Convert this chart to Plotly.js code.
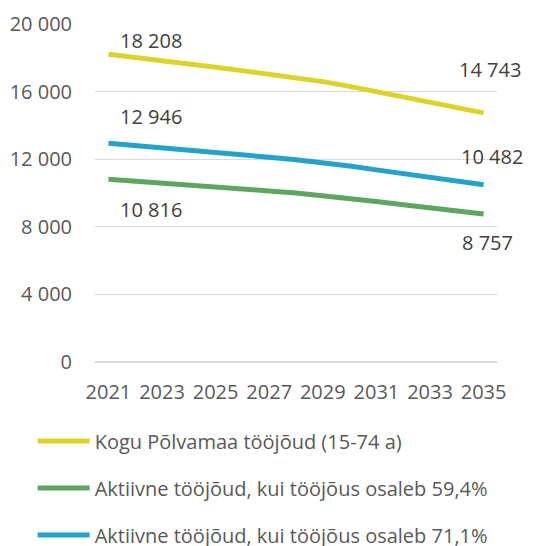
<!DOCTYPE html>
<html>
<head>
<meta charset="utf-8">
<script src="https://cdn.plot.ly/plotly-3.0.1.min.js"></script>
<style>html,body{margin:0;padding:0;background:#fff;}#chart{width:544px;height:546px;}</style>
</head>
<body>
<div id="chart"></div>
<script>
const years = [2021,2022,2023,2024,2025,2026,2027,2028,2029,2030,2031,2032,2033,2034,2035];
const koguToojoud = [18208,18030,17850,17650,17440,17240,17040,16830,16590,16310,15990,15670,15360,15050,14743];
const aktiivne594 = [10816,10710,10603,10484,10359,10241,10122,9997,9854,9688,9498,9308,9124,8940,8757];
const aktiivne711 = [12946,12819,12691,12549,12400,12258,12115,11966,11795,11596,11369,11141,10921,10701,10482];
const seriesNames = ["Kogu Põlvamaa tööjõud (15-74 a)","Aktiivne tööjõud, kui tööjõus osaleb 59,4%","Aktiivne tööjõud, kui tööjõus osaleb 71,1%"];
const colors = ["#DCD32A","#5EA660","#23A3C9"];
const xTicks = [2021,2023,2025,2027,2029,2031,2033,2035];
const yTicks = [0,4000,8000,12000,16000,20000];

const FONT = "Open Sans, sans-serif";
const FS = 20;
const fmt = v => String(v).replace(/\B(?=(\d{3})+(?!\d))/g, " ");

const allSeries = [koguToojoud, aktiivne594, aktiivne711];
const traces = allSeries.map((ys,i)=>({
  x: years, y: ys, type:'scatter', mode:'lines', name: seriesNames[i],
  line:{color:colors[i], width:5, shape:'linear'},
  legendgroup:'g'+i, hoverinfo:'skip'
}));

// label offsets (px) for start/end labels of each series
const startShift = [[10,14],[10,-30],[10,27]];
const endShift = [[6,43],[4,-28],[8,28]];
const annotations = [];
allSeries.forEach((ys,i)=>{
  const n = ys.length-1;
  annotations.push({x:years[0], y:ys[0], text:fmt(ys[0]), showarrow:false, xanchor:'left',
    xshift:startShift[i][0], yshift:startShift[i][1], font:{family:FONT,size:FS,color:'#404040'}});
  annotations.push({x:years[n], y:ys[n], text:fmt(ys[n]), showarrow:false, xanchor:'center',
    xshift:endShift[i][0], yshift:endShift[i][1], font:{family:FONT,size:FS,color:'#404040'}});
});

const layout = {
  width:544, height:546,
  margin:{l:95, r:47, t:24, b:184, autoexpand:false},
  paper_bgcolor:'#fff', plot_bgcolor:'#fff',
  showlegend:true,
  font:{family:FONT, size:FS, color:'#595959'},
  separators:', ',
  xaxis:{range:[2020.5,2035.5], tickvals:xTicks, ticktext:xTicks.map(String), showgrid:false, zeroline:false,
    showline:false, ticks:'outside', ticklen:12, tickcolor:'rgba(0,0,0,0)', tickangle:0,
    tickfont:{family:FONT,size:FS,color:'#595959'}, fixedrange:true, automargin:false},
  yaxis:{range:[0,20000], tickvals:yTicks, ticktext:yTicks.map(fmt), showgrid:true, gridcolor:'#D9D9D9', gridwidth:1.3,
    zeroline:true, zerolinecolor:'#D9D9D9', zerolinewidth:1.3, showline:false,
    ticks:'outside', ticklen:18, tickcolor:'rgba(0,0,0,0)',
    tickfont:{family:FONT,size:FS,color:'#595959'}, fixedrange:true, automargin:false},
  legend:{xref:'container', yref:'container', x:0.06, y:0.228, xanchor:'left', yanchor:'top',
    orientation:'v', tracegroupgap:18, itemwidth:52, font:{family:FONT,size:FS,color:'#595959'},
    bgcolor:'rgba(0,0,0,0)'},
  annotations: annotations
};

Plotly.newPlot('chart', traces, layout, {displayModeBar:false, staticPlot:true});
</script>
</body>
</html>
